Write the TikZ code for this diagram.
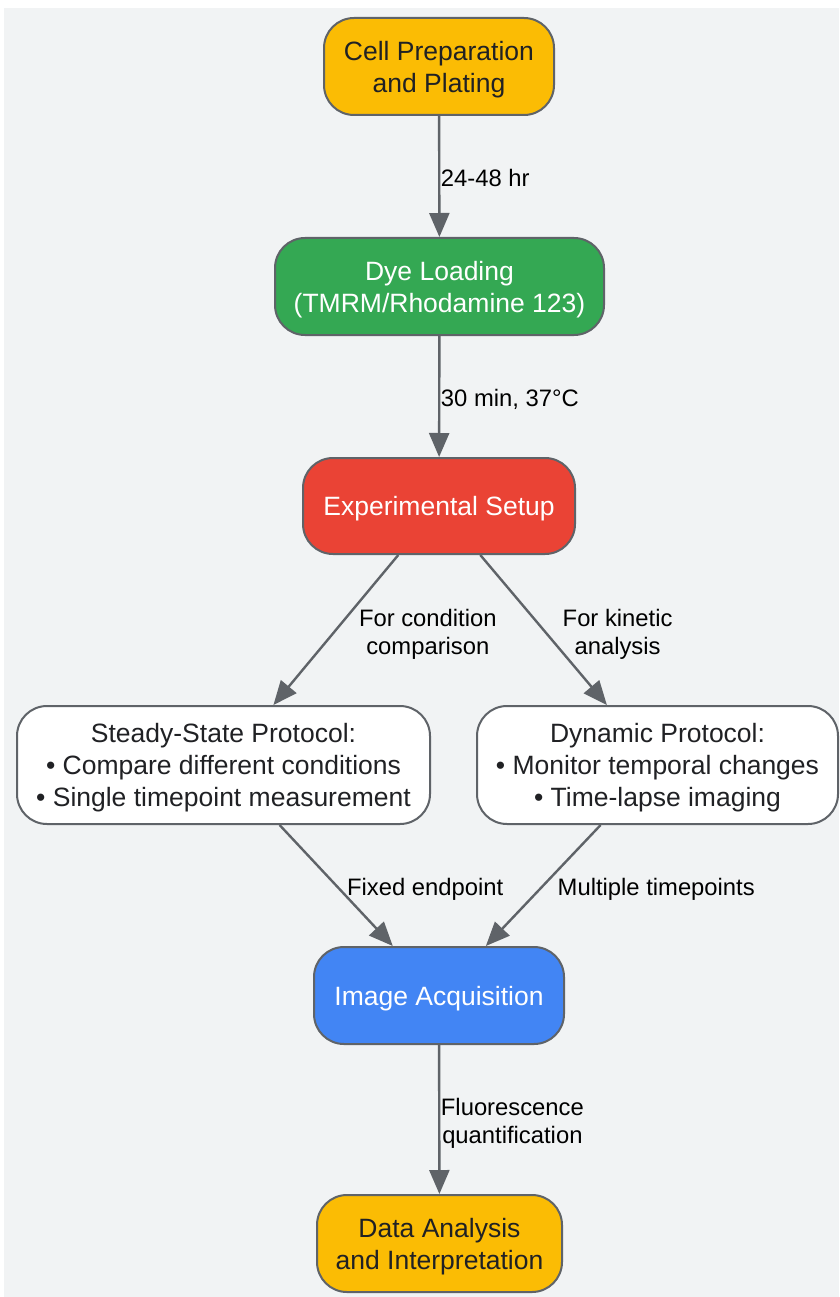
\documentclass[tikz,border=0pt]{standalone}
\usepackage{fontspec}
\setmainfont{Liberation Sans}
\usetikzlibrary{arrows.meta}
\definecolor{bggray}{HTML}{F1F3F4}
\definecolor{edgegray}{HTML}{5F6368}
\definecolor{txtdark}{HTML}{202124}
\definecolor{gyellow}{HTML}{FBBC04}
\definecolor{ggreen}{HTML}{34A853}
\definecolor{gred}{HTML}{EA4335}
\definecolor{gblue}{HTML}{4285F4}
\tikzset{
  box/.style={draw=edgegray, line width=2pt, rounded corners=30pt, inner sep=0pt,
    align=center, text depth=-2pt, font=\fontsize{26.5}{32}\selectfont},
  darktext/.style={text=txtdark},
  lighttext/.style={text=white},
  conn/.style={draw=edgegray, line width=2.4pt, -{Triangle[length=24pt,width=20pt]}},
  elabel/.style={font=\fontsize{23.8}{28}\selectfont, text=black, align=center, inner sep=2pt}
}
\begin{document}
\begin{tikzpicture}[x=1pt,y=-1pt]
\useasboundingbox (0,0) rectangle (839,1297);
\fill[white] (0,0) rectangle (839,1297);
\fill[bggray] (4,8) rectangle (839,1297);

\node[box, darktext, fill=gyellow, minimum width=230pt, minimum height=97pt] (cell) at (439,66.5) {Cell Preparation\\and Plating};
\node[box, lighttext, fill=ggreen, minimum width=329pt, minimum height=97pt] (dye) at (439.5,286.5) {Dye Loading\\(TMRM/Rhodamine 123)};
\node[box, lighttext, fill=gred, minimum width=272pt, minimum height=96pt] (exp) at (439,506) {Experimental Setup};
\node[box, darktext, fill=white, minimum width=413pt, minimum height=118pt] (steady) at (223.5,765) {Steady-State Protocol:\\\textbullet{} Compare different conditions\\\textbullet{} Single timepoint measurement};
\node[box, darktext, fill=white, minimum width=361pt, minimum height=118pt] (dyn) at (657.5,765) {Dynamic Protocol:\\\textbullet{} Monitor temporal changes\\\textbullet{} Time-lapse imaging};
\node[box, lighttext, fill=gblue, minimum width=250pt, minimum height=97pt] (img) at (439,995.5) {Image Acquisition};
\node[box, darktext, fill=gyellow, minimum width=245pt, minimum height=97pt] (data) at (439.5,1243.5) {Data Analysis\\and Interpretation};

\draw[conn] (cell) -- node[elabel, midway, anchor=west, xshift=-1.5pt, yshift=-1.5pt] {24-48 hr} (dye);
\draw[conn] (dye) -- node[elabel, midway, anchor=west, xshift=-1.5pt, yshift=-2.5pt] {30 min, 37°C} (exp);
\draw[conn] (exp) -- node[elabel, midway, xshift=92pt, yshift=-4pt] {For condition\\comparison} (steady);
\draw[conn] (exp) -- node[elabel, midway, xshift=74pt, yshift=-4pt] {For kinetic\\analysis} (dyn);
\draw[conn] (steady) -- node[elabel, midway, xshift=89pt, yshift=-3.5pt] {Fixed endpoint} (img);
\draw[conn] (dyn) -- node[elabel, midway, xshift=113pt, yshift=-3.5pt] {Multiple timepoints} (img);
\draw[conn] (img) -- node[elabel, midway, anchor=west, xshift=-1.5pt, yshift=-3.5pt] {Fluorescence\\quantification} (data);
\end{tikzpicture}
\end{document}
